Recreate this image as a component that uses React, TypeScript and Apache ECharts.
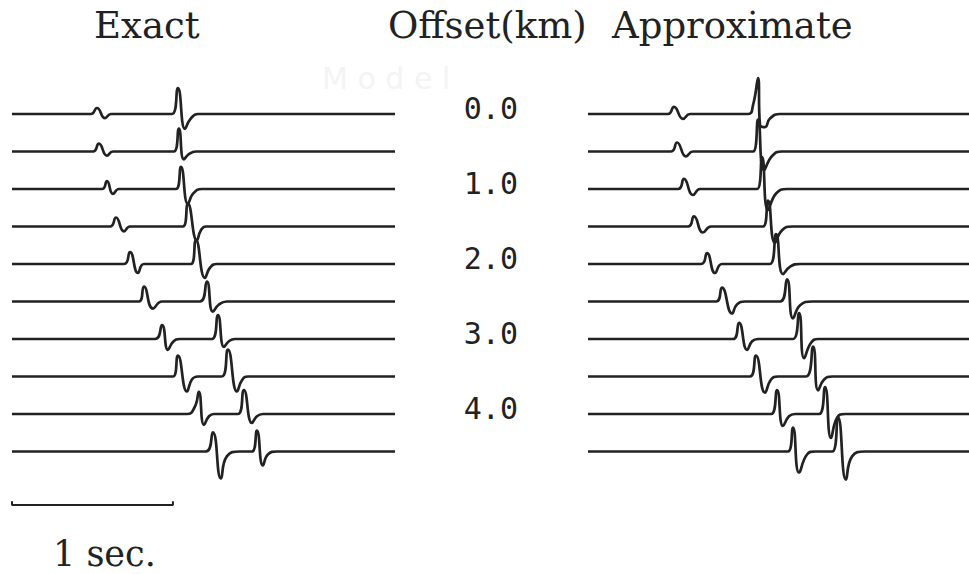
import React, { useEffect, useRef } from "react";
import * as echarts from "echarts";

type Pt = [number, number];

// Source-receiver offsets of the ten traces (km)
const offsetsKm = [0, 0.5, 1, 1.5, 2, 2.5, 3, 3.5, 4, 4.5];
// Offset ticks labelled between the panels (km)
const offsetTicks = [0, 1, 2, 3, 4];

// Trace spacing in km, amplitudes below are in units of this spacing
const TRACE_GAP = 0.5;
// Record lengths shown in each panel (s)
const EXACT_SPAN = 2.38;
const APPROX_SPAN = 2.366;

// Exact seismograms: per trace, the key points [time s, amplitude] of each arrival
const exactTraces: Pt[][][] = [
  [
    [[0.491, 0], [0.528, 0.16], [0.578, -0.11], [0.615, 0]],
    [[0.994, 0], [1.031, 0.69], [1.075, -0.4], [1.106, -0.15], [1.155, 0]],
  ],
  [
    [[0.503, 0], [0.54, 0.21], [0.59, -0.11], [0.627, 0]],
    [[1.006, 0], [1.037, 0.61], [1.068, -0.21], [1.099, -0.07], [1.143, 0]],
  ],
  [
    [[0.559, 0], [0.59, 0.21], [0.627, -0.13], [0.665, 0]],
    [[1.019, 0], [1.05, 0.59], [1.093, -0.4], [1.124, -0.13], [1.18, 0]],
  ],
  [
    [[0.609, 0], [0.646, 0.24], [0.696, -0.13], [0.733, 0]],
    [[1.062, 0], [1.093, 0.61], [1.149, -0.37], [1.174, -0.1], [1.205, 0]],
  ],
  [
    [[0.696, 0], [0.733, 0.32], [0.783, -0.24], [0.82, 0]],
    [[1.112, 0], [1.143, 0.64], [1.199, -0.37], [1.23, -0.1], [1.273, 0]],
  ],
  [
    [[0.789, 0], [0.82, 0.4], [0.876, -0.19], [0.932, 0]],
    [[1.168, 0], [1.211, 0.53], [1.248, -0.27], [1.286, -0.08], [1.335, 0]],
  ],
  [
    [[0.888, 0], [0.932, 0.37], [0.969, -0.29], [1.0, -0.08], [1.043, 0]],
    [[1.242, 0], [1.28, 0.64], [1.317, -0.21], [1.348, -0.06], [1.385, 0]],
  ],
  [
    [[1.0, 0], [1.031, 0.56], [1.087, -0.4], [1.118, -0.08], [1.155, 0]],
    [[1.304, 0], [1.342, 0.72], [1.398, -0.4], [1.429, -0.1], [1.466, 0]],
  ],
  [
    [[1.087, 0], [1.137, 0.2], [1.161, 0.59], [1.193, -0.29], [1.224, -0.06], [1.255, 0]],
    [[1.404, 0], [1.441, 0.64], [1.491, -0.24], [1.522, -0.06], [1.559, 0]],
  ],
  [
    [[1.205, 0], [1.248, 0.51], [1.298, -0.72], [1.335, -0.13], [1.416, 0]],
    [[1.491, 0], [1.522, 0.56], [1.559, -0.37], [1.59, -0.08], [1.646, 0]],
  ],
];

// Approximate seismograms, same layout
const approxTraces: Pt[][][] = [
  [
    [[0.497, 0], [0.534, 0.19], [0.59, -0.13], [0.634, 0]],
    [[0.994, 0], [1.025, 0.24], [1.056, 0.96], [1.068, -0.29], [1.099, -0.35], [1.13, -0.12], [1.193, 0]],
  ],
  [
    [[0.516, 0], [0.553, 0.24], [0.609, -0.13], [0.652, 0]],
    [[1.025, 0], [1.056, 0.85], [1.093, -0.5], [1.143, -0.12], [1.205, 0]],
  ],
  [
    [[0.559, 0], [0.596, 0.27], [0.652, -0.16], [0.696, 0]],
    [[1.05, 0], [1.081, 0.85], [1.118, -0.56], [1.168, -0.12], [1.236, 0]],
  ],
  [
    [[0.621, 0], [0.658, 0.27], [0.714, -0.16], [0.764, 0]],
    [[1.087, 0], [1.118, 0.69], [1.161, -0.43], [1.205, -0.1], [1.267, 0]],
  ],
  [
    [[0.702, 0], [0.739, 0.29], [0.789, -0.24], [0.832, 0]],
    [[1.13, 0], [1.168, 0.8], [1.211, -0.27], [1.255, -0.07], [1.317, 0]],
  ],
  [
    [[0.795, 0], [0.832, 0.37], [0.894, -0.32], [0.925, -0.08], [0.975, 0]],
    [[1.193, 0], [1.236, 0.59], [1.273, -0.45], [1.317, -0.1], [1.391, 0]],
  ],
  [
    [[0.901, 0], [0.938, 0.43], [0.988, -0.29], [1.019, -0.06], [1.056, 0]],
    [[1.273, 0], [1.311, 0.69], [1.342, -0.51], [1.385, -0.1], [1.429, 0]],
  ],
  [
    [[1.006, 0], [1.043, 0.56], [1.099, -0.43], [1.137, -0.08], [1.18, 0]],
    [[1.354, 0], [1.398, 0.8], [1.429, -0.37], [1.466, -0.08], [1.516, 0]],
  ],
  [
    [[1.137, 0], [1.174, 0.64], [1.211, -0.32], [1.248, -0.06], [1.286, 0]],
    [[1.435, 0], [1.472, 0.72], [1.509, -0.64], [1.547, -0.1], [1.596, 0]],
  ],
  [
    [[1.242, 0], [1.273, 0.64], [1.311, -0.56], [1.36, -0.08], [1.41, 0]],
    [[1.516, 0], [1.553, 0.91], [1.602, -0.75], [1.64, -0.13], [1.72, 0]],
  ],
];

// Time scale bar: 1 s, drawn below the exact panel at this offset row (km)
const scaleBarSec = [0, 1];
const scaleBarRow = 5.213;
const scaleBarTick = 0.05;

const INK = "#222222";

function traceData(events: Pt[][], offset: number, span: number): Pt[] {
  const pts: Pt[] = [[0, offset]];
  events.forEach((ev) => ev.forEach(([t, a]) => pts.push([t, offset - a * TRACE_GAP])));
  pts.push([span, offset]);
  return pts;
}

function traceSeries(traces: Pt[][][], span: number, axisIndex: number) {
  return traces.map((events, i) => ({
    type: "line",
    xAxisIndex: axisIndex,
    yAxisIndex: axisIndex,
    data: traceData(events, offsetsKm[i], span),
    showSymbol: false,
    smooth: 0.5,
    lineStyle: { color: INK, width: 2.7 },
    silent: true,
  }));
}

export default function App() {
  const ref = useRef<HTMLDivElement>(null);

  useEffect(() => {
    document.body.style.margin = "0";
    const chart = echarts.init(ref.current!, undefined, { renderer: "svg" });

    const offsetAxis = { type: "value", min: -1, max: 5.5, inverse: true };

    chart.setOption({
      animation: false,
      backgroundColor: "#ffffff",
      grid: [
        { left: 12, top: 39, width: 383, height: 487.5 },
        { left: 588, top: 39, width: 381, height: 487.5 },
        { left: 518, top: 33, width: 1, height: 487.5 },
      ],
      xAxis: [
        { type: "value", gridIndex: 0, min: 0, max: EXACT_SPAN, show: false },
        { type: "value", gridIndex: 1, min: 0, max: APPROX_SPAN, show: false },
        { type: "value", gridIndex: 2, min: 0, max: 1, show: false },
      ],
      yAxis: [
        { ...offsetAxis, gridIndex: 0, show: false },
        { ...offsetAxis, gridIndex: 1, show: false },
        {
          ...offsetAxis,
          gridIndex: 2,
          interval: 1,
          position: "left",
          axisLine: { show: false },
          axisTick: { show: false },
          splitLine: { show: false },
          axisLabel: {
            margin: 0,
            color: INK,
            fontFamily: "DejaVu Sans Mono",
            fontSize: 30,
            formatter: (v: number) => (offsetTicks.includes(v) ? v.toFixed(1) : ""),
          },
        },
      ],
      graphic: [
        {
          type: "text",
          left: 94,
          top: 7,
          style: { text: "Exact", fill: INK, font: "37px 'DejaVu Serif'" },
        },
        {
          type: "text",
          left: 388,
          top: 7,
          style: { text: "Offset(km)", fill: INK, font: "37px 'DejaVu Serif'" },
        },
        {
          type: "text",
          left: 612,
          top: 7,
          style: { text: "Approximate", fill: INK, font: "37px 'DejaVu Serif'" },
        },
        {
          type: "text",
          left: 322,
          top: 63,
          z: -1,
          style: { text: "M o d e l", fill: "#f4f4f4", font: "30px 'DejaVu Sans'" },
        },
        {
          type: "text",
          left: 53,
          top: 536,
          style: { text: "1 sec.", fill: INK, font: "35px 'DejaVu Serif'" },
        },
      ],
      series: [
        ...traceSeries(exactTraces, EXACT_SPAN, 0),
        ...traceSeries(approxTraces, APPROX_SPAN, 1),
        {
          type: "line",
          xAxisIndex: 0,
          yAxisIndex: 0,
          data: [
            [scaleBarSec[0], scaleBarRow - scaleBarTick],
            [scaleBarSec[0], scaleBarRow],
            [scaleBarSec[1], scaleBarRow],
            [scaleBarSec[1], scaleBarRow - scaleBarTick],
          ],
          showSymbol: false,
          lineStyle: { color: INK, width: 2 },
          silent: true,
        },
      ],
    });

    return () => chart.dispose();
  }, []);

  return <div ref={ref} style={{ width: 969, height: 574 }} />;
}
